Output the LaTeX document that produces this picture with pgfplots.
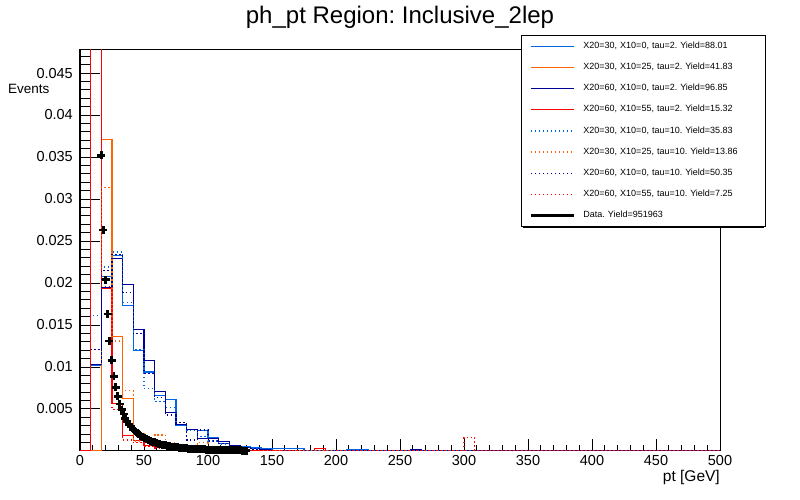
\documentclass[border=0pt]{standalone}
\usepackage{fontspec}
\setmainfont{Liberation Sans}
\usepackage{pgfplots}
\pgfplotsset{compat=1.18}
\usepackage{pgfplotstable}
\definecolor{cBlue}{RGB}{0,102,230}
\definecolor{cOrange}{RGB}{255,102,0}
\definecolor{cNavy}{RGB}{0,0,153}
\definecolor{cRed}{RGB}{255,0,0}
\frenchspacing

\pgfplotstableread{
x bl or nv rd bld ord nvd rdd
0 0 0 0 0 0 0 0 0
8.333 0.0102 0 0.0103 0.08 0.0161 0 0.0121 0.07
16.667 0.0208 0.0371 0.0194 0.0193 0.0219 0.0314 0.0215 0.0196
25 0.0233 0.0136 0.0229 0.0057 0.0237 0.0131 0.0234 0.0049
33.333 0.0173 0.0063 0.0198 0.0018 0.0177 0.0072 0.0189 0.0013
41.667 0.0120 0.0021 0.0145 0.0012 0.0121 0.0012 0.0140 0.0010
50 0.0094 0.0012 0.0108 0.0007 0.0074 0.0010 0.0092 0.0005
58.333 0.0066 0.0008 0.0071 0.0004 0.0059 0.0019 0.0064 0.0003
66.667 0.0061 0.0005 0.0046 0.0003 0.0052 0.0010 0.0043 0.0002
75 0.0031 0.0004 0.0032 0.0002 0.0030 0.0008 0.0034 0.0001
83.333 0.0026 0.0003 0.0026 0.0001 0.0024 0.0006 0.0013 0.0001
91.667 0.0024 0.0002 0.0015 0.0001 0.0017 0.0010 0.0025 0
100 0.0016 0.0002 0.0015 0.0001 0.0012 0.0005 0.0012 0
108.333 0.0009 0.0001 0.0011 0 0.0008 0.0003 0.0009 0
116.667 0.0007 0.0001 0.0007 0 0.0005 0.0002 0.0006 0
125 0.0005 0 0.0004 0.0001 0.0004 0.0001 0.0004 0
133.333 0.0004 0 0.0003 0.0001 0.0003 0.0001 0.0002 0
141.667 0.0003 0 0.0002 0 0.0002 0 0.0002 0
150 0.0003 0 0.0001 0 0.0001 0 0.0001 0
158.333 0.0003 0 0.0001 0 0.0001 0 0 0
166.667 0.0003 0 0.0001 0 0 0 0.0001 0
175 0.0001 0 0.0001 0 0 0 0 0
183.333 0.0001 0 0 0.0003 0 0 0 0
191.667 0 0 0 0 0 0 0.0001 0
200 0 0 0 0 0 0 0 0
208.333 0.0002 0 0 0 0 0 0 0
216.667 0.0002 0 0 0 0 0 0 0
225 0 0 0 0 0 0 0 0
233.333 0 0 0 0 0 0 0 0
241.667 0 0 0 0 0 0 0 0
250 0 0 0 0 0 0 0 0
258.333 0 0 0.0002 0 0 0 0 0
266.667 0 0 0 0 0 0 0 0
275 0 0 0 0 0 0 0 0
283.333 0 0 0 0 0 0 0 0
291.667 0 0 0 0 0 0 0 0
300 0 0 0 0 0 0 0 0.0016
308.333 0 0 0 0 0 0 0 0
316.667 0 0 0 0 0 0 0 0
325 0 0 0 0 0 0 0 0
333.333 0 0 0 0 0 0 0 0
341.667 0 0 0 0 0 0 0 0
350 0 0 0 0 0 0 0 0
358.333 0 0 0 0 0 0 0 0
366.667 0 0 0 0 0 0 0 0
375 0 0 0 0 0 0 0 0
383.333 0 0 0 0 0 0 0 0
391.667 0 0 0 0 0 0 0 0
400 0 0 0 0 0 0 0 0
408.333 0 0 0 0 0 0 0 0
416.667 0 0 0 0 0 0 0 0
425 0 0 0 0 0 0 0 0
433.333 0 0 0 0 0 0 0 0
441.667 0 0 0 0 0 0 0 0
450 0 0 0 0 0 0 0 0
458.333 0 0 0 0 0 0 0 0
466.667 0 0 0 0 0 0 0 0
475 0 0 0 0 0 0 0 0
483.333 0 0 0 0 0 0 0 0
491.667 0 0 0 0 0 0 0 0
500 0 0 0 0 0 0 0 0
}\hist

\pgfplotstableread{
x y
16.5 0.0352
18.3 0.0263
20.0 0.0204
21.5 0.0163
23.0 0.0131
24.8 0.0108
26.5 0.0089
28.0 0.0076
29.5 0.0065
31.0 0.0056
32.5 0.0049
34.0 0.0044
35.5 0.0039
37.0 0.0035
38.5 0.0032
40.0 0.0029
41.5 0.0026
43.0 0.0024
44.5 0.0022
46.0 0.0020
47.5 0.0018
49.0 0.0017
50.5 0.0015
52.0 0.0014
53.5 0.0013
55.0 0.0012
56.5 0.0011
58.0 0.00102
59.5 0.00095
61.0 0.00088
62.5 0.00082
64.0 0.00076
65.5 0.00071
67.0 0.00066
68.5 0.00061
70.0 0.00057
71.5 0.00053
73.0 0.00049
74.5 0.00046
76.0 0.00043
77.5 0.00040
79.0 0.00037
80.5 0.00035
82.0 0.00033
83.5 0.00031
85.0 0.00029
86.5 0.00027
88.0 0.00025
89.5 0.00024
91.0 0.00022
92.5 0.00021
94.0 0.00020
95.5 0.00019
97.0 0.00018
98.5 0.00017
100.0 0.00016
101.5 0.00015
103.0 0.00014
104.5 0.00013
106.0 0.00012
107.5 0.00012
109.0 0.00011
110.5 0.00010
112.0 0.00010
113.5 0.00009
115.0 0.00009
116.5 0.00008
118.0 0.00008
119.5 0.00007
121.0 0.00007
122.5 0.00006
124.0 0.00006
125.5 0.00006
127.0 0.00005
128.5 0.00005
130.0 0.00005
}\data

\tikzset{dotline/.style={line width=1.25pt, dash pattern=on 1.4pt off 2.6pt},
  solline/.style={line width=1.15pt}}

\begin{document}
\begin{tikzpicture}[x=1pt,y=1pt]
% origin = lower left corner of the frame (image pixel 80,451)
\useasboundingbox (-80,-49) rectangle (720,451);
\fill[white] (-80,-49) rectangle (720,451);
% x ticks axis
\begin{axis}[scale only axis,
  width=640pt, height=401pt,
  xmin=0, xmax=500, ymin=0, ymax=0.04774,
  axis line style={draw=none},
  ytick=\empty,
  xtick={0,50,100,150,200,250,300,350,400,450,500},
  xticklabels={0,50,100,150,200,250,300,350,400,450,500},
  minor x tick num=4,
  xtick pos=left, tick align=inside,
  major tick length=12pt, minor tick length=6pt,
  tick style={black, line width=1pt},
  xticklabel style={font=\fontsize{14.5}{16}\selectfont, inner sep=0pt, yshift=-4pt},
  xlabel={pt [GeV]},
  xlabel style={at={(rel axis cs:1,0)}, anchor=north east, inner sep=0pt, yshift=-19pt, font=\fontsize{15.5}{17}\selectfont},
]
\addplot[draw=none] coordinates {(0,0)};
\end{axis}
% legend shadow
\fill[black] (443,223) rectangle (684,414);
% main axis
\begin{axis}[scale only axis,
  width=640pt, height=401pt,
  xmin=0, xmax=500, ymin=0, ymax=0.04774,
  axis line style={line width=1pt},
  xtick=\empty,
  scaled y ticks=false,
  ytick={0,0.005,0.01,0.015,0.02,0.025,0.03,0.035,0.04,0.045,0.05},
  yticklabels={,0.005,0.01,0.015,0.02,0.025,0.03,0.035,0.04,0.045,},
  minor y tick num=4,
  ytick pos=left, tick align=inside,
  major tick length=20pt, minor tick length=10pt,
  tick style={black, line width=1pt},
  yticklabel style={font=\fontsize{14.5}{16}\selectfont, inner sep=0pt, xshift=-7pt},
  clip mode=individual,
  legend cell align=left,
  legend style={at={(0.689,1.0374)}, anchor=north west, draw=black, line width=1pt,
    fill=white, inner xsep=8pt, inner ysep=6.35pt, row sep=12.7pt,
    font=\fontsize{9}{10}\selectfont,
    nodes={inner sep=0pt, text height=6.5pt, text depth=2pt, text width=174pt, align=left},
    /tikz/every odd column/.append style={column sep=8pt}},
]
\addplot[const plot, draw=cBlue, solline,
  legend image code/.code={\draw[cBlue, solline] (0pt,0pt) -- (43pt,0pt);}]
  table[x=x, y=bl] {\hist};
\addlegendentry{X20=30, X10=0, tau=2. Yield=88.01}
\addplot[const plot, draw=cOrange, solline,
  legend image code/.code={\draw[cOrange, solline] (0pt,0pt) -- (43pt,0pt);}]
  table[x=x, y=or] {\hist};
\addlegendentry{X20=30, X10=25, tau=2. Yield=41.83}
\addplot[const plot, draw=cNavy, solline,
  legend image code/.code={\draw[cNavy, solline] (0pt,0pt) -- (43pt,0pt);}]
  table[x=x, y=nv] {\hist};
\addlegendentry{X20=60, X10=0, tau=2. Yield=96.85}
\addplot[const plot, draw=cRed, solline,
  legend image code/.code={\draw[cRed, solline] (0pt,0pt) -- (43pt,0pt);}]
  table[x=x, y=rd] {\hist};
\addlegendentry{X20=60, X10=55, tau=2. Yield=15.32}
\addplot[const plot, draw=cBlue, dotline,
  legend image code/.code={\draw[cBlue, dotline] (0pt,0pt) -- (43pt,0pt);}]
  table[x=x, y=bld] {\hist};
\addlegendentry{X20=30, X10=0, tau=10. Yield=35.83}
\addplot[const plot, draw=cOrange, dotline,
  legend image code/.code={\draw[cOrange, dotline] (0pt,0pt) -- (43pt,0pt);}]
  table[x=x, y=ord] {\hist};
\addlegendentry{X20=30, X10=25, tau=10. Yield=13.86}
\addplot[const plot, draw=cNavy, dotline,
  legend image code/.code={\draw[cNavy, dotline] (0pt,0pt) -- (43pt,0pt);}]
  table[x=x, y=nvd] {\hist};
\addlegendentry{X20=60, X10=0, tau=10. Yield=50.35}
\addplot[const plot, draw=cRed, dotline,
  legend image code/.code={\draw[cRed, dotline] (0pt,0pt) -- (43pt,0pt);}]
  table[x=x, y=rdd] {\hist};
\addlegendentry{X20=60, X10=55, tau=10. Yield=7.25}
\addplot[only marks, mark=+, mark size=4pt, mark options={black, line width=2.8pt},
  legend image code/.code={\draw[black, line width=3pt] (0pt,0pt) -- (43pt,0pt);}]
  table[x=x, y=y] {\data};
\addlegendentry{Data. Yield=951963}
\end{axis}
\node[anchor=base, inner sep=0pt, font=\fontsize{24}{28}\selectfont] at (320,427) {ph\_pt Region: Inclusive\_2lep};
\node[anchor=base west, inner sep=0pt, font=\fontsize{13.5}{16}\selectfont] at (-72,357) {Events};
\end{tikzpicture}
\end{document}
